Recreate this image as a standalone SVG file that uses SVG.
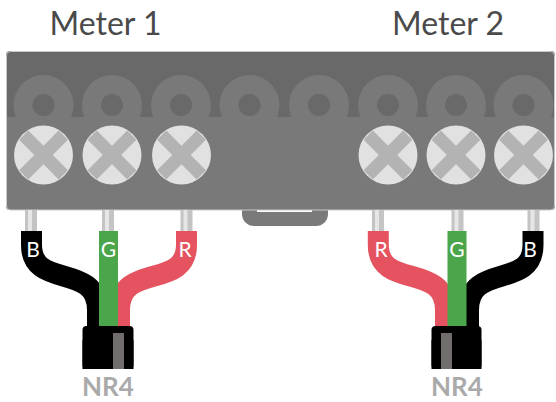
<svg xmlns="http://www.w3.org/2000/svg" width="556" height="402" viewBox="0 0 556 402">
<style>
.title{font-family:Lato,"Liberation Sans",sans-serif;font-size:32px;fill:#4a4a4a;text-anchor:middle}
.nr{font-family:Lato,"Liberation Sans",sans-serif;font-size:26px;font-weight:bold;fill:#aaaaaa;text-anchor:middle}
.wl{font-family:Lato,"Liberation Sans",sans-serif;font-size:21px;fill:#ffffff;text-anchor:middle}
.wire{fill:none;stroke-width:21;stroke-linecap:butt}
.pin{fill:#c4c4c4}
.pinhl{fill:#e6e6e6}
</style>
<defs>
<clipPath id="panelClip"><rect x="6" y="51" width="549" height="159" rx="4"/></clipPath>
<g id="ring"><circle r="30" fill="#797979"/><circle r="11" fill="#696969"/></g>
<g id="screw"><circle r="29.5" fill="#e1e1e1"/><rect x="-28" y="-6.5" width="56" height="13" fill="#b3b3b3" transform="rotate(45)"/><rect x="-28" y="-6.5" width="56" height="13" fill="#b3b3b3" transform="rotate(-45)"/></g>
<g id="pin"><rect class="pin" x="-6" y="210" width="12" height="21"/><rect class="pinhl" x="-3" y="210" width="4" height="21"/></g>
</defs>

<g id="label-meter1"><text class="title" x="105.5" y="35">Meter 1</text></g>
<g id="label-meter2"><text class="title" x="448" y="35">Meter 2</text></g>

<g id="terminal-block">
<rect x="242" y="196" width="86" height="30" rx="12" fill="#7a7a7a"/>
<rect x="257" y="210" width="55" height="2" fill="#ffffff"/>
<g clip-path="url(#panelClip)">
<rect x="6" y="51" width="549" height="159" fill="#696969"/>
<use href="#ring" x="43.5" y="105"/>
<use href="#ring" x="112" y="105"/>
<use href="#ring" x="181" y="105"/>
<use href="#ring" x="249.5" y="105"/>
<use href="#ring" x="319" y="105"/>
<use href="#ring" x="388" y="105"/>
<use href="#ring" x="456" y="105"/>
<use href="#ring" x="523.5" y="105"/>
<rect x="6" y="117" width="549" height="93" fill="#797979"/>
</g>
<rect x="6.5" y="51.5" width="548" height="158.5" rx="4" fill="none" stroke="#c9c9c9" stroke-width="1"/>
<use href="#screw" x="43.5" y="155"/>
<use href="#screw" x="112" y="155"/>
<use href="#screw" x="181.5" y="155"/>
<use href="#screw" x="388" y="155"/>
<use href="#screw" x="456" y="155"/>
<use href="#screw" x="523.5" y="155"/>
<use href="#pin" x="31"/>
<use href="#pin" x="108"/>
<use href="#pin" x="186.5"/>
<use href="#pin" x="378"/>
<use href="#pin" x="457.5"/>
<use href="#pin" x="533.5"/>
</g>

<g id="connectors">
<path class="wire" stroke="#000000" d="M31.5,231 V245 C31.5,290 97.5,262 97.5,310 V330"/>
<path class="wire" stroke="#e4535f" d="M186.5,231 V245 C186.5,290 119.5,262 119.5,310 V330"/>
<rect x="99" y="231" width="19" height="97" fill="#4ba54b"/>
<path class="wire" stroke="#e4535f" d="M378.3,231 V245 C378.3,290 445.5,262 445.5,310 V330"/>
<path class="wire" stroke="#000000" d="M533,231 V245 C533,290 468.5,262 468.5,310 V330"/>
<rect x="447.5" y="231" width="19" height="97" fill="#4ba54b"/>
<text class="wl" x="33" y="257">B</text>
<text class="wl" x="108.5" y="257">G</text>
<text class="wl" x="185" y="257">R</text>
<text class="wl" x="381" y="257">R</text>
<text class="wl" x="457" y="257">G</text>
<text class="wl" x="530" y="257">B</text>
</g>

<g id="cable-nr4-1">
<rect x="82.5" y="326" width="51" height="43" rx="4" fill="#000000"/>
<rect x="82.5" y="340" width="51" height="29" fill="#000000"/>
<rect x="113" y="333" width="11" height="36" fill="#716d6d"/>
<text class="nr" x="108" y="396">NR4</text>
</g>

<g id="cable-nr4-2">
<rect x="431.5" y="326" width="50" height="43" rx="4" fill="#000000"/>
<rect x="431.5" y="340" width="50" height="29" fill="#000000"/>
<rect x="441" y="333" width="11" height="36" fill="#716d6d"/>
<text class="nr" x="457" y="396">NR4</text>
</g>
</svg>
